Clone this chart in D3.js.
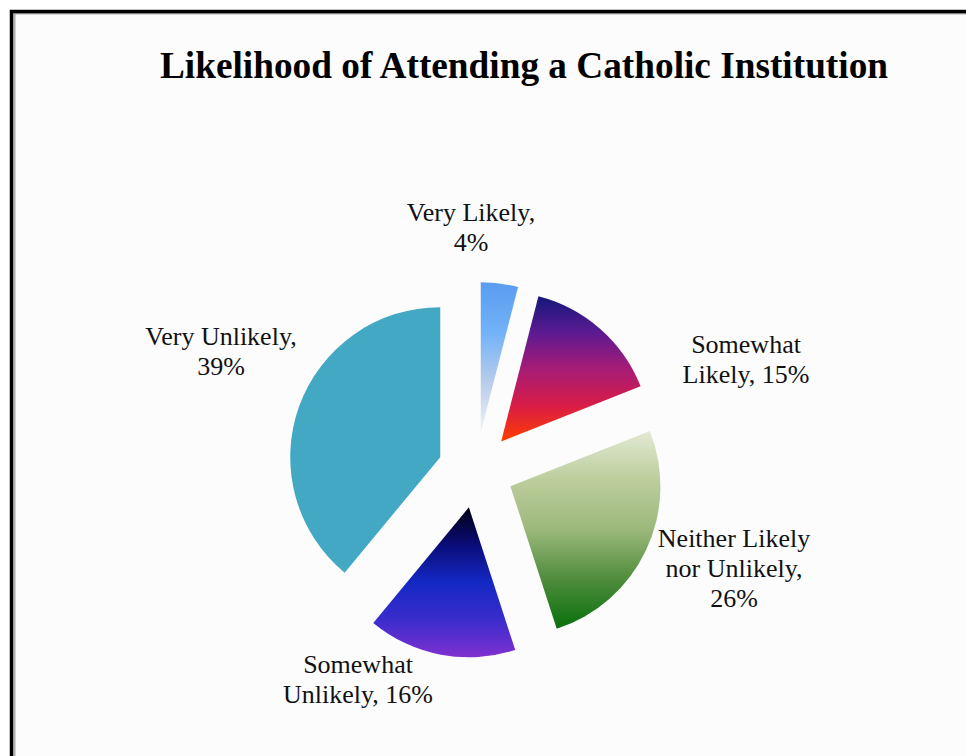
<!DOCTYPE html>
<html>
<head>
<meta charset="utf-8">
<script src="https://d3js.org/d3.v7.min.js"></script>
<style>
  body { margin: 0; background: #fff; }
  svg { display: block; }
</style>
</head>
<body>
<script>
// data (clockwise from 12 o'clock)
const categories = ["Very Likely", "Somewhat Likely", "Neither Likely nor Unlikely", "Somewhat Unlikely", "Very Unlikely"];
const values = [4, 15, 26, 16, 39];
const labelLines = [
  ["Very Likely,", "4%"],
  ["Somewhat", "Likely, 15%"],
  ["Neither Likely", "nor Unlikely,", "26%"],
  ["Somewhat", "Unlikely, 16%"],
  ["Very Unlikely,", "39%"]
];

// vertical gradient stops per slice (top -> bottom)
const sliceStops = [
  ["#5a9cf0", "#72b2f8", "#b8cdea", "#f2f2f8"],
  ["#14187a", "#5c1a92", "#a61c76", "#d81c48", "#ff3c00"],
  ["#e2e9d4", "#bccd9c", "#9bb87a", "#4f8c3c", "#08700c"],
  ["#000010", "#0a0c78", "#1428c4", "#3a2ccc", "#8030d0"],
  ["#43a8c4", "#43a8c4"]
];

const width = 966, height = 756;
const cx = 476, cy = 470, radius = 150, explode = 38;
const lineH = 30;
const serif = '"Liberation Serif"';
// first-baseline offset of each label from the pie centre
const labelOffset = [[-5, -249], [270, -117], [258, 77], [-118, 203], [-255, -125]];

const svg = d3.select("body").append("svg")
    .attr("width", width)
    .attr("height", height);

// frame
svg.append("rect")
    .attr("x", 14.5).attr("y", 13.5)
    .attr("width", width).attr("height", height)
    .attr("fill", "#fcfcfc")
    .attr("stroke", "#aaa")
    .attr("stroke-width", 2);
svg.append("rect")
    .attr("x", 11.5).attr("y", 11.5)
    .attr("width", width).attr("height", height)
    .attr("fill", "none")
    .attr("stroke", "#000")
    .attr("stroke-width", 3.5);

svg.append("text")
    .attr("x", 524)
    .attr("y", 78)
    .attr("text-anchor", "middle")
    .style("font-family", serif)
    .attr("font-weight", "bold")
    .attr("font-size", 38)
    .attr("textLength", 728)
    .attr("lengthAdjust", "spacingAndGlyphs")
    .attr("fill", "#000")
    .text("Likelihood of Attending a Catholic Institution");

const defs = svg.append("defs");
sliceStops.forEach((stops, i) => {
  const g = defs.append("linearGradient")
      .attr("id", "grad" + i)
      .attr("x1", 0).attr("y1", 0)
      .attr("x2", 0).attr("y2", 1);
  stops.forEach((c, j) => {
    g.append("stop")
        .attr("offset", j / (stops.length - 1))
        .attr("stop-color", c);
  });
});

const pie = d3.pie().sort(null).value(d => d);
const arcs = pie(values);
const arc = d3.arc().innerRadius(0).outerRadius(radius);

const g = svg.append("g").attr("transform", `translate(${cx},${cy})`);

g.selectAll("path")
  .data(arcs)
  .join("path")
    .attr("transform", d => {
      const a = (d.startAngle + d.endAngle) / 2;
      return `translate(${explode * Math.sin(a)},${-explode * Math.cos(a)})`;
    })
    .attr("d", arc)
    .attr("fill", (d, i) => `url(#grad${i})`);

const labels = g.selectAll("text.lab")
  .data(arcs)
  .join("text")
    .attr("class", "lab")
    .attr("text-anchor", "middle")
    .style("font-family", serif)
    .attr("font-size", 26)
    .attr("fill", "#111")
    .attr("transform", (d, i) => `translate(${labelOffset[i][0]},${labelOffset[i][1]})`);

labels.selectAll("tspan")
  .data((d, i) => labelLines[i])
  .join("tspan")
    .attr("x", 0)
    .attr("y", (t, j) => j * lineH)
    .text(t => t);
</script>
</body>
</html>
